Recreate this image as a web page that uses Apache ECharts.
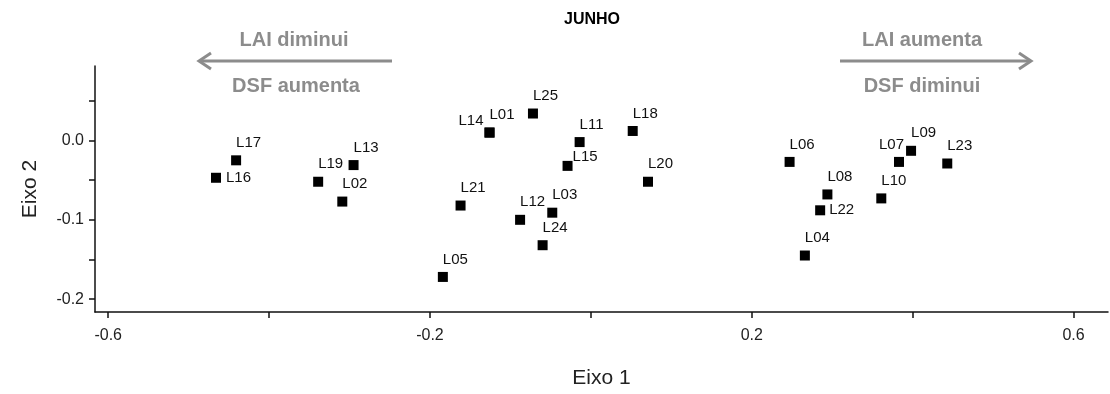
<!DOCTYPE html>
<html>
<head>
<meta charset="utf-8">
<script src="https://cdn.jsdelivr.net/npm/echarts@6/dist/echarts.min.js"></script>
<style>
html,body{margin:0;padding:0;background:#fff;}
#chart{width:1110px;height:394px;}
</style>
</head>
<body>
<div id="chart"></div>
<script>
// ---- data ----
const pointNames = ["L17","L16","L19","L13","L02","L25","L14","L01","L11","L18","L15","L20","L21","L03","L12","L24","L05","L06","L09","L07","L23","L08","L22","L10","L04"];
const eixo1 = [-0.441,-0.466,-0.339,-0.295,-0.309,-0.072,-0.126,-0.126,-0.014,0.052,-0.029,0.071,-0.162,-0.048,-0.088,-0.060,-0.184,0.247,0.398,0.383,0.443,0.294,0.285,0.361,0.266];
const eixo2 = [-0.025,-0.047,-0.052,-0.031,-0.077,0.034,0.010,0.010,-0.002,0.012,-0.032,-0.052,-0.082,-0.091,-0.100,-0.132,-0.172,-0.027,-0.013,-0.027,-0.029,-0.068,-0.088,-0.073,-0.145];
const xTickValues = [-0.6,-0.4,-0.2,0,0.2,0.4,0.6];
const xLabelValues = [-0.6,-0.2,0.2,0.6];
const yTickValues = [-0.2,-0.15,-0.1,-0.05,0,0.05];
const yLabelValues = [-0.2,-0.1,0];
const titleText = "JUNHO";
const xName = "Eixo 1", yName = "Eixo 2";
const leftTop = "LAI diminui", leftBottom = "DSF aumenta";
const rightTop = "LAI aumenta", rightBottom = "DSF diminui";

// label placement (style only)
const labelStyleFor = {
  L16: {position:'right', align:'left', distance:5},
  L22: {position:'right', align:'left', distance:4},
  L15: {position:'right', align:'left', distance:0, offset:[0,-9]},
  L14: {position:'left', align:'right', distance:5, offset:[4,-12]},
  L07: {position:'top', align:'right', offset:[5,0]}
};

const seriesData = pointNames.map((n,i)=>{
  const d = {name:n, value:[eixo1[i], eixo2[i]]};
  if (labelStyleFor[n]) d.label = labelStyleFor[n];
  return d;
});

const grey = '#8c8c8c';
const FONT = '"Liberation Sans", Arial, sans-serif';

const chart = echarts.init(document.getElementById('chart'), null, {renderer:'canvas'});
chart.setOption({
  animation:false,
  backgroundColor:'#fff',
  textStyle:{fontFamily:FONT},
  grid:{left:95, right:2, top:66, bottom:78, containLabel:false},
  xAxis:{
    type:'value', min:-0.6164, max:0.6428,
    name:xName, nameLocation:'middle', nameGap:56,
    nameTextStyle:{fontSize:21, color:'#222', fontFamily:FONT},
    axisLine:{show:true, onZero:false, lineStyle:{color:'#111', width:1.5}},
    axisTick:{show:true, inside:false, length:6, customValues:xTickValues, lineStyle:{color:'#111', width:1.5}},
    axisLabel:{customValues:xLabelValues, margin:16, fontSize:16, color:'#222', formatter:v=>Number(v).toFixed(1)},
    splitLine:{show:false}
  },
  yAxis:{
    type:'value', min:-0.2162, max:0.0939,
    name:yName, nameLocation:'middle', nameGap:54,
    nameTextStyle:{fontSize:21, color:'#222', fontFamily:FONT},
    axisLine:{show:true, onZero:false, lineStyle:{color:'#111', width:1.5}},
    axisTick:{show:true, inside:false, length:6, customValues:yTickValues, lineStyle:{color:'#111', width:1.5}},
    axisLabel:{customValues:yLabelValues, margin:11, fontSize:16, color:'#222', formatter:v=>Number(v).toFixed(1)},
    splitLine:{show:false}
  },
  series:[{
    type:'scatter',
    symbol:'rect',
    symbolSize:10,
    itemStyle:{color:'#000', opacity:1},
    emphasis:{disabled:true},
    label:{show:true, position:'top', align:'left', distance:5, formatter:'{b}', fontSize:15, color:'#111', fontFamily:FONT},
    data:seriesData
  }],
  graphic:[
    {type:'text', z:10, style:{text:titleText, x:592, y:20, align:'center', verticalAlign:'middle', font:'bold 16px '+FONT, fill:'#000'}},
    {type:'text', style:{text:leftTop, x:294, y:40, align:'center', verticalAlign:'middle', font:'bold 20px '+FONT, fill:grey}},
    {type:'text', style:{text:leftBottom, x:296, y:86, align:'center', verticalAlign:'middle', font:'bold 20px '+FONT, fill:grey}},
    {type:'text', style:{text:rightTop, x:922, y:40, align:'center', verticalAlign:'middle', font:'bold 20px '+FONT, fill:grey}},
    {type:'text', style:{text:rightBottom, x:922, y:86, align:'center', verticalAlign:'middle', font:'bold 20px '+FONT, fill:grey}},
    {type:'line', shape:{x1:199, y1:61, x2:392, y2:61}, style:{stroke:grey, lineWidth:3}},
    {type:'polyline', shape:{points:[[211,53],[199,61],[211,69]]}, style:{stroke:grey, lineWidth:3, fill:null}},
    {type:'line', shape:{x1:840, y1:61, x2:1031, y2:61}, style:{stroke:grey, lineWidth:3}},
    {type:'polyline', shape:{points:[[1019,53],[1031,61],[1019,69]]}, style:{stroke:grey, lineWidth:3, fill:null}}
  ]
});
</script>
</body>
</html>
